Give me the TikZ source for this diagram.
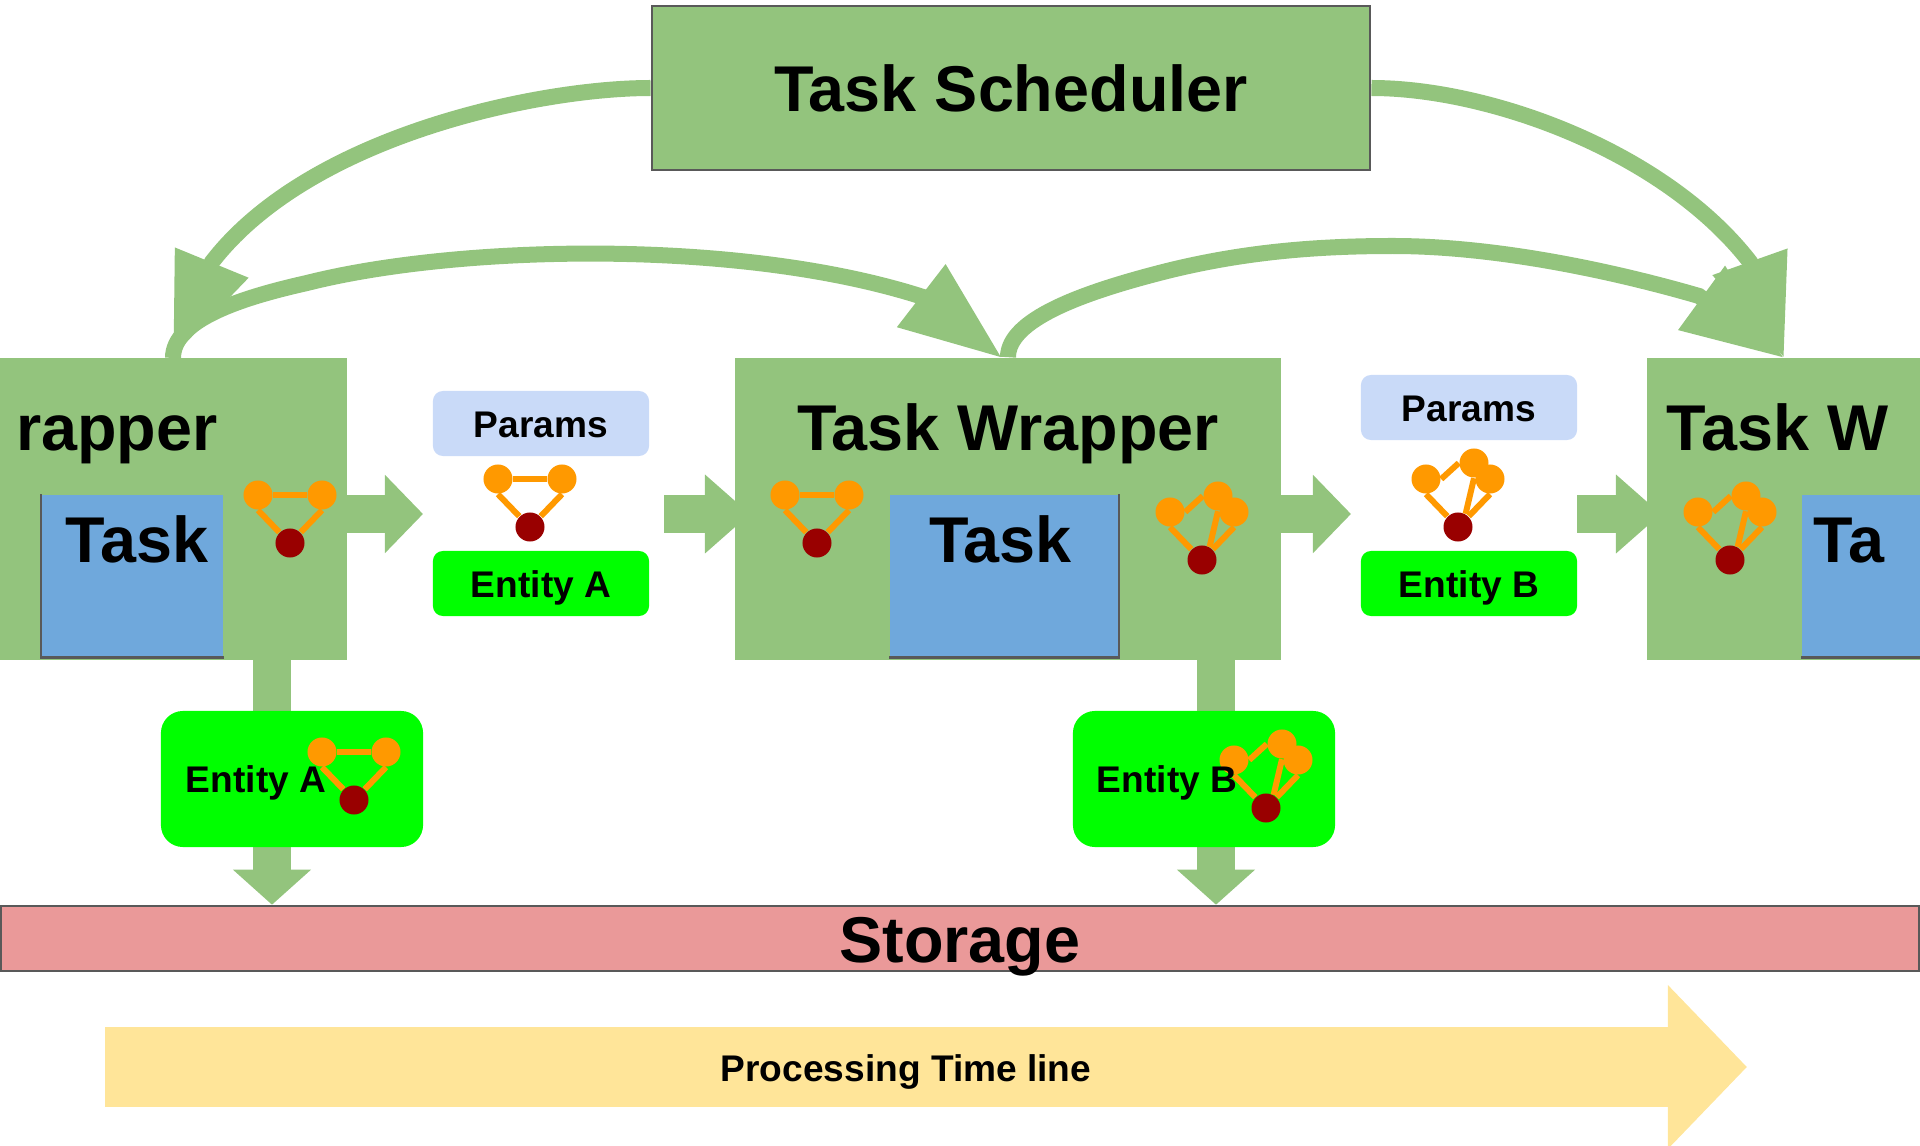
\documentclass[tikz,border=0pt]{standalone}
\usepackage{fontspec}
\setmainfont{Liberation Sans}
\usetikzlibrary{arrows.meta}
\definecolor{wrapgreen}{HTML}{93C47D}
\definecolor{taskblue}{HTML}{6FA8DC}
\definecolor{paramblue}{HTML}{C9DAF8}
\definecolor{entitygreen}{HTML}{00FF00}
\definecolor{dotorange}{HTML}{FF9900}
\definecolor{dotred}{HTML}{990000}
\definecolor{storepink}{HTML}{EA9999}
\definecolor{timeyellow}{HTML}{FFE599}
\definecolor{edgegray}{HTML}{595959}
\tikzset{
  bigtext/.style={font=\fontsize{18.4}{20}\selectfont\bfseries, inner sep=0pt},
  smalltext/.style={font=\fontsize{10.55}{12}\selectfont\bfseries, inner sep=0pt},
  wrapbox/.style={fill=wrapgreen, minimum height=3.02cm, inner sep=0pt},
  taskbox/.style={fill=taskblue, minimum height=1.62cm, inner sep=0pt},
  taskedge/.style={draw=edgegray, line width=.025cm},
  midbox/.style={smalltext, minimum width=2.16cm, minimum height=.65cm, rounded corners=.1cm, text height=.27cm, text depth=0pt},
  entbox/.style={fill=entitygreen, minimum width=2.62cm, minimum height=1.36cm, rounded corners=.22cm, inner sep=0pt},
  dot/.style={circle, fill=dotorange, minimum size=.29cm, inner sep=0pt},
  reddot/.style={dot, fill=dotred},
  link/.style={draw=dotorange, line width=.06cm},
  curved/.style={draw=wrapgreen, line width=.16cm, -{Triangle[length=1.02cm, width=.75cm]}},
  flow/.style={draw=wrapgreen, line width=.38cm, -{Triangle[length=.38cm, width=.76cm]}},
}
\begin{document}
\begin{tikzpicture}[x=.01cm, y=-.01cm]
    \useasboundingbox (0,0) rectangle (1920,1146);

    \node[draw=edgegray, line width=.025cm, fill=wrapgreen, minimum width=7.18cm, minimum height=1.64cm, inner sep=0pt,
      bigtext, text height=.46cm, text depth=0pt] (sched) at (1011,88) {Task Scheduler};

    \node[wrapbox, minimum width=3.47cm] (wrapA) at (173,509) {};
    \node[wrapbox, minimum width=5.46cm] (wrapB) at (1008,509) {};
    \node[wrapbox, minimum width=2.73cm] (wrapC) at (1783.5,509) {};

    \node[draw=edgegray, line width=.025cm, fill=storepink, minimum width=19.18cm, minimum height=.65cm, inner sep=0pt] (store) at (960,938.5) {};
    \node[bigtext, anchor=base] (storetext) at (960,962) {Storage};

    \coordinate (tipA) at (173,357);
    \coordinate (tipB) at (1002,358);
    \coordinate (tipC) at (1784,358);
    \coordinate (startA) at (173,358);
    \draw[curved] (sched.west) .. controls (540,88) and (310,135) .. (212,262) -- (tipA);
    \draw[curved] (sched.east) .. controls (1490,88) and (1665,152) .. (1750,262) -- (tipC);
    \draw[curved] (startA) .. controls (173,320) and (240,298) .. (307,283)
      .. controls (457,245) and (740,238) .. (923,297) -- (tipB);
    \draw[curved] (wrapB.north) .. controls (1008,320) and (1080,293) .. (1167,271)
      .. controls (1240,253) and (1310,246) .. (1393,246)
      .. controls (1500,246) and (1620,273) .. (1699,296) -- (tipC);

    \node[taskbox, minimum width=1.81cm] (taskA) at (132.5,576) {};
    \node[taskbox, minimum width=2.28cm] (taskB) at (1004,576) {};
    \node[taskbox, minimum width=1.18cm] (taskC) at (1861,576) {};
    \draw[taskedge] (taskA.north west) -- (taskA.south west) -- (taskA.south east);
    \draw[taskedge] (taskB.south west) -- (taskB.south east) -- (taskB.north east);
    \draw[taskedge] (taskC.south west) -- (taskC.south east);

    \node[bigtext, anchor=base] (titleA) at (117,450.5) {rapper};
    \node[bigtext, anchor=base] (titleB) at (1008,450.5) {Task Wrapper};
    \node[bigtext, anchor=base west] (titleC) at (1666,450.5) {Task W};
    \node[bigtext, anchor=base] (nameA) at (137,563) {Task};
    \node[bigtext, anchor=base] (nameB) at (1000.5,563) {Task};
    \node[bigtext, anchor=base west] (nameC) at (1813,563) {Ta};

    \coordinate (outA) at (347,514);
    \coordinate (inA) at (664,514);
    \coordinate (outB) at (1281,514);
    \coordinate (inB) at (1577,514);
    \coordinate (headA) at (423,514);
    \coordinate (headB) at (750,514);
    \coordinate (headC) at (1351,514);
    \coordinate (headD) at (1661,514);
    \draw[flow] (outA) -- (headA);
    \draw[flow, -{Triangle[length=.45cm, width=.76cm]}] (inA) -- (headB);
    \draw[flow] (outB) -- (headC);
    \draw[flow, -{Triangle[length=.45cm, width=.76cm]}] (inB) -- (headD);

    \node[midbox, fill=paramblue] (paramsA) at (541,423.5) {Params};
    \node[midbox, fill=entitygreen] (entityA) at (541,583.5) {Entity A};
    \node[midbox, fill=paramblue] (paramsB) at (1469,407.5) {Params};
    \node[midbox, fill=entitygreen] (entityB) at (1469,583.5) {Entity B};

    \coordinate (downA) at (272,660);
    \coordinate (downB) at (1216,660);
    \draw[flow, -{Triangle[length=.35cm, width=.76cm]}] (downA) -- (downA |- store.north);
    \draw[flow, -{Triangle[length=.35cm, width=.76cm]}] (downB) -- (downB |- store.north);

    \node[entbox] (saveA) at (292,779) {};
    \node[entbox] (saveB) at (1204,779) {};

    \foreach \n/\x/\y in {ga/258/495, gb/498/479, gc/785/495, gd/322/752}{
        \node[dot] (\n l) at (\x,\y) {};
        \node[dot] (\n r) at (\x+64,\y) {};
        \node[reddot] (\n k) at (\x+32,\y+48) {};
        \draw[link] (\n l) -- (\n r);
        \draw[link] (\n l.south) -- (\n k.135);
        \draw[link] (\n r.south) -- (\n k.45);
      }
    \foreach \n/\x/\y in {ge/1170/512, gf/1426/479, gg/1698/512, gh/1234/760}{
        \node[dot] (\n l) at (\x,\y) {};
        \node[dot] (\n t) at (\x+48,\y-16) {};
        \node[dot] (\n r) at (\x+64,\y) {};
        \node[reddot] (\n k) at (\x+32,\y+48) {};
        \draw[link] (\n l.east) -- (\n t.west);
        \draw[link] (\n l.south) -- (\n k.135);
        \draw[link] (\n t.south) -- (\n k.60);
        \draw[link] (\n r.south) -- (\n k.45);
      }

    \node[smalltext, anchor=base] (savetextA) at (256,793) {Entity A};
    \node[smalltext, anchor=base] (savetextB) at (1167,793) {Entity B};

    \coordinate (timeS) at (105,1067);
    \coordinate (timeE) at (1747,1067);
    \draw[draw=timeyellow, line width=.8cm, -{Triangle[length=.79cm, width=1.59cm]}] (timeS) -- (timeE);
    \node[smalltext, anchor=base] (timetext) at (906,1081) {Processing Time line};
\end{tikzpicture}
\end{document}
